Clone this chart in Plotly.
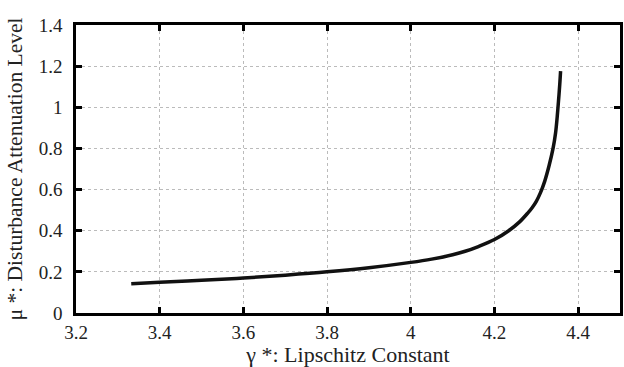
import plotly.graph_objects as go

gamma = [3.332, 3.4, 3.5, 3.6, 3.7, 3.8, 3.9, 4.0, 4.05, 4.1, 4.13, 4.16, 4.2, 4.234,
         4.26, 4.28, 4.29, 4.30, 4.31, 4.32, 4.33, 4.34, 4.346, 4.35, 4.353, 4.356, 4.358]
mu = [0.142, 0.149, 0.159, 0.170, 0.184, 0.200, 0.220, 0.246, 0.262, 0.283, 0.300, 0.322,
      0.357, 0.400, 0.443, 0.487, 0.512, 0.543, 0.585, 0.640, 0.712, 0.800, 0.875,
      0.955, 1.030, 1.110, 1.176]

x_ticks = [3.2, 3.4, 3.6, 3.8, 4.0, 4.2, 4.4]
x_tick_text = ["3.2", "3.4", "3.6", "3.8", "4", "4.2", "4.4"]
y_ticks = [0, 0.2, 0.4, 0.6, 0.8, 1.0, 1.2, 1.4]
y_tick_text = ["0", "0.2", "0.4", "0.6", "0.8", "1", "1.2", "1.4"]

font_family = "Liberation Serif"

fig = go.Figure()
fig.add_trace(go.Scatter(
    x=gamma, y=mu, mode="lines",
    line=dict(color="#111111", width=3.5, shape="spline", smoothing=1.0),
    showlegend=False, hoverinfo="skip",
))

axis_common = dict(
    showline=True, linecolor="black", linewidth=2.5, mirror="allticks",
    ticks="inside", ticklen=6, tickwidth=2.5, tickcolor="black",
    showgrid=True, gridcolor="#bbbbbb", gridwidth=1, griddash="dot",
    zeroline=False,
    tickfont=dict(family=font_family, size=19, color="#222222"),
)

fig.update_xaxes(
    range=[3.2, 4.5], tickvals=x_ticks, ticktext=x_tick_text,
    title=dict(text="γ *: Lipschitz Constant",
               font=dict(family=font_family, size=22, color="#222222"), standoff=1),
    ticklabelstandoff=0,
    **axis_common,
)
fig.update_yaxes(
    range=[0, 1.4], tickvals=y_ticks, ticktext=y_tick_text,
    title=dict(text="μ *: Disturbance Attenuation Level",
               font=dict(family=font_family, size=21.5, color="#222222"), standoff=11),
    ticklabelstandoff=7,
    **axis_common,
)

fig.update_layout(
    width=624, height=367,
    margin=dict(l=76, r=1, t=25, b=54),
    paper_bgcolor="white", plot_bgcolor="white",
    font=dict(family=font_family),
)

fig.write_html("out.html")
